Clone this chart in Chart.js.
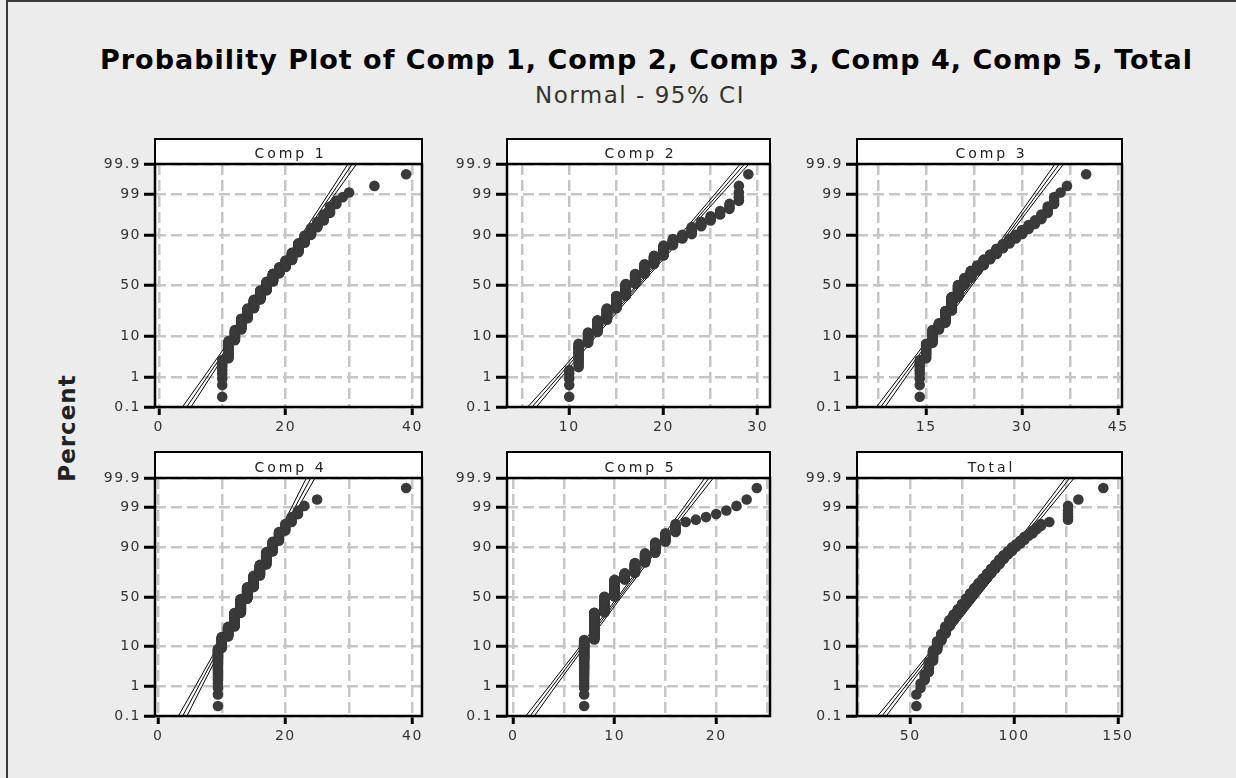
<!DOCTYPE html>
<html>
<head>
<meta charset="utf-8">
<script src="https://cdn.jsdelivr.net/npm/chart.js@4.4.0/dist/chart.umd.min.js"></script>
<style>
  body { margin: 0; background: #ececec; }
  #page { position: relative; width: 1236px; height: 778px; background: #ececec; overflow: hidden; }
  #frame { position: absolute; left: 6px; top: 0; width: 1240px; height: 790px; border-top: 2px solid #3a3a3a; border-left: 2px solid #3a3a3a; }
  #title { position: absolute; left: 100px; width: 1080px; top: 44px; height: 34px; line-height: 34px; text-align: center;
           font: bold 27px "DejaVu Sans", Verdana, sans-serif; letter-spacing: 1px; color: #000; white-space: nowrap; }
  #subtitle { position: absolute; left: 100px; width: 1080px; top: 82px; height: 28px; line-height: 28px; text-align: center;
              font: 23px "DejaVu Sans", Verdana, sans-serif; letter-spacing: 1.5px; color: #333; }
  #ylab { position: absolute; left: 67px; top: 428px; transform: translate(-50%, -50%) rotate(-90deg);
          font: bold 23px "DejaVu Sans", Verdana, sans-serif; letter-spacing: 1px; color: #222; white-space: nowrap; }
  canvas { position: absolute; }
</style>
</head>
<body>
<div id="page">
  <div id="frame"></div>
  <div id="title">Probability Plot of Comp 1, Comp 2, Comp 3, Comp 4, Comp 5, Total</div>
  <div id="subtitle">Normal - 95% CI</div>
  <div id="ylab">Percent</div>
</div>
<script>
// ---- data ----
const panelTitles = ["Comp 1", "Comp 2", "Comp 3", "Comp 4", "Comp 5", "Total"];
const percentTicks = [0.1, 1, 10, 50, 90, 99, 99.9];
const percentLabels = ["0.1", "1", "10", "50", "90", "99", "99.9"];

// observed values and how many observations sit at each value
const comp1Values = [10, 11, 12, 13, 14, 15, 16, 17, 18, 19, 20, 21, 22, 23, 24, 25, 26, 27, 28, 29, 30, 34, 39];
const comp1Counts = [9, 15, 15, 21, 24, 24, 27, 27, 24, 18, 18, 18, 18, 12, 9, 6, 5, 4, 2, 1, 1, 1, 1];
const comp2Values = [10, 11, 12, 13, 14, 15, 16, 17, 18, 19, 20, 21, 22, 23, 24, 25, 26, 27, 28, 29];
const comp2Counts = [5, 16, 14, 22, 27, 35, 36, 30, 27, 21, 21, 11, 6, 9, 5, 4, 3, 3, 4, 1];
const comp3Values = [14, 15, 16, 17, 18, 19, 20, 21, 22, 23, 24, 25, 26, 27, 28, 29, 30, 31, 32, 33, 34, 35, 36, 37, 40];
const comp3Counts = [9, 12, 18, 12, 27, 38, 36, 21, 21, 15, 15, 12, 12, 9, 8, 6, 6, 5, 4, 4, 4, 3, 1, 1, 1];
const comp4Values = [9.4, 10, 11, 12, 13, 14, 15, 16, 17, 18, 19, 20, 21, 22, 23, 25, 39];
const comp4Counts = [27, 18, 21, 36, 42, 36, 33, 27, 24, 14, 9, 5, 3, 2, 1, 1, 1];
const comp5Values = [7, 8, 9, 10, 11, 12, 13, 14, 15, 16, 17, 18, 19, 20, 21, 22, 23, 24];
const comp5Counts = [40, 63, 48, 51, 18, 24, 18, 15, 9, 6, 1, 1, 1, 1, 1, 1, 1, 1];
const totalValues = [53, 55, 57, 59, 61, 63, 65, 67, 69, 71, 73, 75, 77, 79, 81, 83, 85, 87, 89, 91, 93, 95, 97, 99, 101, 103, 105, 107, 109, 111, 113, 117, 126, 131, 143];
const totalCounts = [2, 2, 3, 7, 11, 13, 13, 16, 16, 15, 15, 16, 17, 16, 16, 15, 13, 13, 12, 10, 10, 8, 6, 6, 4, 4, 4, 2, 3, 2, 2, 1, 5, 1, 1];

// fitted line: x at 0.1 % and at 99.9 %
const fitAtLow = [4.4, 6.05, 7.9, 3.85, 1.67, 36.4];
const fitAtHigh = [30.5, 28.6, 35.8, 24.0, 19.3, 126.9];
// 95% CI half width (x units) at each percent tick
const ciHalf1 = [0.68, 0.52, 0.36, 0.28, 0.36, 0.52, 0.68];
const ciHalf2 = [0.46, 0.35, 0.24, 0.19, 0.24, 0.35, 0.46];
const ciHalf3 = [0.67, 0.52, 0.36, 0.28, 0.36, 0.52, 0.67];
const ciHalf4 = [0.68, 0.52, 0.36, 0.28, 0.36, 0.52, 0.68];
const ciHalf5 = [0.42, 0.32, 0.23, 0.18, 0.23, 0.32, 0.42];
const ciHalfT = [2.1, 1.6, 1.1, 0.87, 1.1, 1.6, 2.1];

// x axes
const xRanges = [[-0.6, 41.5], [3.4, 31.3], [4.2, 45.6], [-0.5, 41.5], [-0.6, 25.3], [24.4, 152]];
const xGridTicks = [[0, 10, 20, 30, 40], [5, 10, 15, 20, 25, 30], [7.5, 15, 22.5, 30, 37.5, 45],
                    [0, 10, 20, 30, 40], [0, 5, 10, 15, 20, 25], [25, 50, 75, 100, 125, 150]];
const xLabelTicks = [[0, 20, 40], [10, 20, 30], [15, 30, 45], [0, 20, 40], [0, 10, 20], [50, 100, 150]];

// ---- layout ----
const colLeft = [155, 507, 857];
const colRight = [422, 770, 1122];
const headTop = [139, 452];
const plotTop = [164, 478];
const plotBottom = [407, 716];
const padL = 72, padR = 14, padB = 34;

Chart.defaults.font.family = '"DejaVu Sans", Verdana, sans-serif';
Chart.defaults.font.size = 14;
Chart.defaults.color = "#333";

// inverse standard normal (probability scale)
function normInv(p) {
    const a = [-3.969683028665376e+01, 2.209460984245205e+02, -2.759285104469687e+02, 1.383577518672690e+02, -3.066479806614716e+01, 2.506628277459239e+00];
    const b = [-5.447609879822406e+01, 1.615858368580409e+02, -1.556989798598866e+02, 6.680131188771972e+01, -1.328068155288572e+01];
    const c = [-7.784894002430293e-03, -3.223964580411365e-01, -2.400758277161838e+00, -2.549732539343734e+00, 4.374664141464968e+00, 2.938163982698783e+00];
    const d = [7.784695709041462e-03, 3.224671290700398e-01, 2.445134137142996e+00, 3.754408661907416e+00];
    const pl = 0.02425;
    let q, r;
    if (p < pl) {
        q = Math.sqrt(-2 * Math.log(p));
        return (((((c[0]*q+c[1])*q+c[2])*q+c[3])*q+c[4])*q+c[5]) / ((((d[0]*q+d[1])*q+d[2])*q+d[3])*q+1);
    }
    if (p > 1 - pl) {
        q = Math.sqrt(-2 * Math.log(1 - p));
        return -(((((c[0]*q+c[1])*q+c[2])*q+c[3])*q+c[4])*q+c[5]) / ((((d[0]*q+d[1])*q+d[2])*q+d[3])*q+1);
    }
    q = p - 0.5; r = q * q;
    return (((((a[0]*r+a[1])*r+a[2])*r+a[3])*r+a[4])*r+a[5])*q / (((((b[0]*r+b[1])*r+b[2])*r+b[3])*r+b[4])*r+1);
}
const zOf = pct => normInv(pct / 100);
const zMin = zOf(0.1), zMax = zOf(99.9);

// one point per observation, median-rank plotting position
function rankedPoints(values, counts) {
    const n = counts.reduce((s, k) => s + k, 0);
    const pts = [];
    let rank = 0;
    values.forEach((v, k) => {
        for (let j = 0; j < counts[k]; j++) {
            rank++;
            pts.push({ x: v, y: normInv((rank - 0.3) / (n + 0.4)) });
        }
    });
    return pts;
}

// white plot area, header strip and black frame
const panelFrame = {
    id: "panelFrame",
    beforeDraw(chart) {
        const { ctx, chartArea: a } = chart;
        ctx.save();
        ctx.fillStyle = "#fff";
        ctx.fillRect(a.left, a.top, a.right - a.left, a.bottom - a.top);
        ctx.restore();
        // Minitab spaces its tick labels out a little
        ctx.letterSpacing = "1.5px";
    },
    afterDraw(chart, args, opts) {
        const { ctx, chartArea: a } = chart;
        const hh = opts.headH;
        ctx.save();
        ctx.fillStyle = "#fff";
        ctx.fillRect(a.left, a.top - hh, a.right - a.left, hh);
        ctx.strokeStyle = "#000";
        ctx.lineWidth = 2;
        ctx.strokeRect(a.left, a.top - hh, a.right - a.left, hh);
        ctx.lineWidth = 2.5;
        ctx.strokeRect(a.left, a.top, a.right - a.left, a.bottom - a.top);
        ctx.fillStyle = "#222";
        ctx.font = '14px "DejaVu Sans", Verdana, sans-serif';
        ctx.letterSpacing = "3px";
        ctx.textAlign = "center";
        ctx.textBaseline = "alphabetic";
        ctx.fillText(opts.title, (a.left + a.right) / 2 + 2, a.top - 6);
        ctx.restore();
    }
};

const panelData = [
    [comp1Values, comp1Counts, ciHalf1],
    [comp2Values, comp2Counts, ciHalf2],
    [comp3Values, comp3Counts, ciHalf3],
    [comp4Values, comp4Counts, ciHalf4],
    [comp5Values, comp5Counts, ciHalf5],
    [totalValues, totalCounts, ciHalfT]
];

function buildPanel(i) {
    const r = Math.floor(i / 3), c = i % 3;
    const [values, counts, ciHalf] = panelData[i];
    const left = colLeft[c] - padL;
    const top = headTop[r] - 6;
    const w = colRight[c] - colLeft[c] + padL + padR;
    const h = plotBottom[r] + padB - top;

    const cv = document.createElement("canvas");
    cv.width = w; cv.height = h;
    cv.style.left = left + "px"; cv.style.top = top + "px";
    cv.style.width = w + "px"; cv.style.height = h + "px";
    document.getElementById("page").appendChild(cv);

    const fitX = z => fitAtLow[i] + (fitAtHigh[i] - fitAtLow[i]) * (z - zMin) / (zMax - zMin);
    const fitLine = [{ x: fitAtLow[i], y: zMin }, { x: fitAtHigh[i], y: zMax }];
    const lower = percentTicks.map((p, k) => ({ x: fitX(zOf(p)) - ciHalf[k], y: zOf(p) }));
    const upper = percentTicks.map((p, k) => ({ x: fitX(zOf(p)) + ciHalf[k], y: zOf(p) }));
    const lineStyle = { showLine: true, borderColor: "#000", borderWidth: 1, pointRadius: 0, fill: false, tension: 0 };

    const labels = xLabelTicks[i];
    new Chart(cv, {
        type: "scatter",
        data: {
            datasets: [
                { data: rankedPoints(values, counts), pointRadius: 5.3, pointHoverRadius: 5.3,
                  pointBackgroundColor: "#3a3a3a", pointBorderWidth: 0 },
                Object.assign({ data: fitLine }, lineStyle),
                Object.assign({ data: lower }, lineStyle),
                Object.assign({ data: upper }, lineStyle)
            ]
        },
        options: {
            responsive: false,
            animation: false,
            events: [],
            layout: { padding: { top: plotTop[r] - top, right: padR, left: 0, bottom: 0 } },
            plugins: {
                legend: { display: false },
                tooltip: { enabled: false },
                panelFrame: { title: panelTitles[i], headH: plotTop[r] - headTop[r] }
            },
            scales: {
                x: {
                    type: "linear",
                    min: xRanges[i][0],
                    max: xRanges[i][1],
                    afterBuildTicks: s => { s.ticks = xGridTicks[i].map(v => ({ value: v })); },
                    afterFit: s => { s.height = padB; s.paddingLeft = 0; s.paddingRight = 0; },
                    ticks: {
                        autoSkip: false, maxRotation: 0, minRotation: 0, padding: 4, color: "#333",
                        callback: v => labels.includes(v) ? String(v) : ""
                    },
                    grid: {
                        color: "#c6c6c6", lineWidth: 2.5, tickLength: 8, tickWidth: 3,
                        tickColor: ctx => (ctx.tick && labels.includes(ctx.tick.value)) ? "#000" : "rgba(0,0,0,0)"
                    },
                    border: { display: false, dash: [11, 5] }
                },
                y: {
                    type: "linear",
                    min: zMin,
                    max: zMax,
                    afterBuildTicks: s => { s.ticks = percentTicks.map(p => ({ value: zOf(p) })); },
                    afterFit: s => { s.width = padL; s.paddingTop = 0; s.paddingBottom = 0; },
                    ticks: {
                        autoSkip: false, padding: 3, color: "#333",
                        callback: (v, k) => percentLabels[k]
                    },
                    grid: { color: "#c6c6c6", lineWidth: 2.5, tickLength: 11, tickWidth: 3, tickColor: "#000" },
                    border: { display: false, dash: [11, 5] }
                }
            }
        },
        plugins: [panelFrame]
    });
}

for (let i = 0; i < 6; i++) buildPanel(i);
</script>
</body>
</html>
